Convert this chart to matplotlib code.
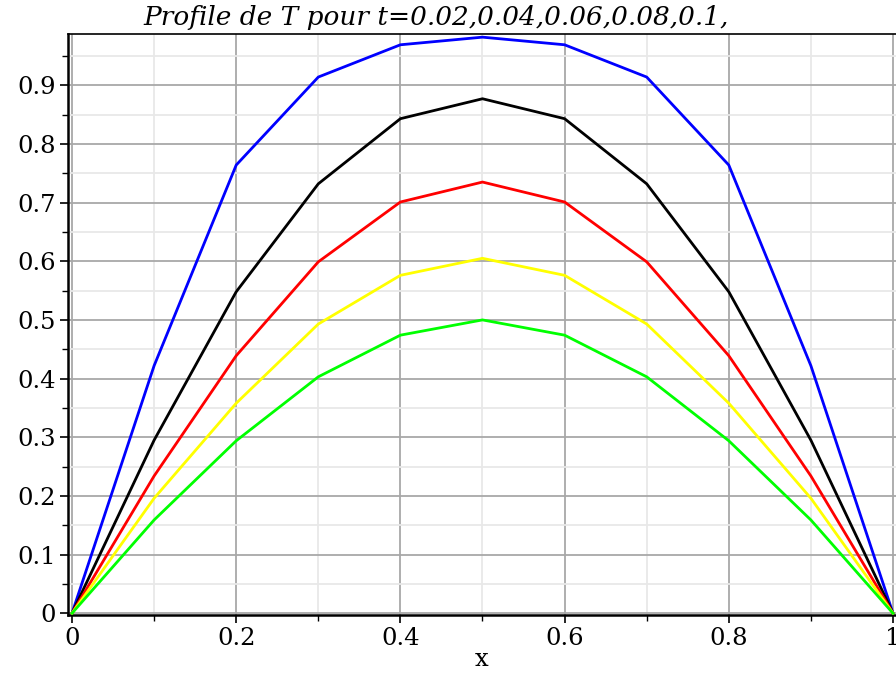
import matplotlib
matplotlib.use('Agg')
import matplotlib.pyplot as plt
from matplotlib.ticker import MultipleLocator

# temperature profiles at t = 0.02 ... 0.1
x = [0.0, 0.1, 0.2, 0.3, 0.4, 0.5, 0.6, 0.7, 0.8, 0.9, 1.0]
T_blue = [0.0, 0.422, 0.764, 0.914, 0.969, 0.982, 0.969, 0.914, 0.764, 0.422, 0.0]
T_black = [0.0, 0.295, 0.548, 0.732, 0.843, 0.877, 0.843, 0.732, 0.548, 0.295, 0.0]
T_red = [0.0, 0.234, 0.439, 0.599, 0.701, 0.735, 0.701, 0.599, 0.439, 0.234, 0.0]
T_yellow = [0.0, 0.196, 0.358, 0.493, 0.576, 0.605, 0.576, 0.493, 0.358, 0.196, 0.0]
T_green = [0.0, 0.159, 0.294, 0.403, 0.474, 0.500, 0.474, 0.403, 0.294, 0.159, 0.0]

profiles = [T_blue, T_black, T_red, T_yellow, T_green]
colors = ['#0000ff', '#000000', '#ff0000', '#ffff00', '#00ff00']

fig = plt.figure(figsize=(8.96, 6.73), dpi=100)
ax = fig.add_axes([0.0759, 0.0862, 0.9241, 0.8633])

for T, c in zip(profiles, colors):
    ax.plot(x, T, color=c, linewidth=2.0, zorder=3)

ax.set_xlim(-0.0049, 1.0037)
ax.set_ylim(-0.003, 0.9874)

ax.xaxis.set_major_locator(MultipleLocator(0.2))
ax.xaxis.set_minor_locator(MultipleLocator(0.1))
ax.yaxis.set_major_locator(MultipleLocator(0.1))
ax.yaxis.set_minor_locator(MultipleLocator(0.05))

ax.grid(which='major', color='#a8a8a8', linewidth=1.3, zorder=0)
ax.grid(which='minor', color='#e8e8e8', linewidth=1.3, zorder=0)
ax.set_axisbelow(True)

xt = [0, 0.2, 0.4, 0.6, 0.8, 1]
ax.set_xticks(xt)
ax.set_xticklabels(['0', '0.2', '0.4', '0.6', '0.8', '1'])
yt = [0, 0.1, 0.2, 0.3, 0.4, 0.5, 0.6, 0.7, 0.8, 0.9]
ax.set_yticks(yt)
ax.set_yticklabels(['0', '0.1', '0.2', '0.3', '0.4', '0.5', '0.6', '0.7', '0.8', '0.9'])

ax.tick_params(which='major', length=6, width=1.2, color='black',
               labelsize=17.5, pad=3)
ax.tick_params(which='minor', length=4, width=1.0, color='black')
for lab in ax.get_xticklabels() + ax.get_yticklabels():
    lab.set_family('DejaVu Serif')

ax.spines['left'].set_linewidth(1.8)
ax.spines['bottom'].set_linewidth(1.8)
ax.spines['top'].set_linewidth(1.2)
ax.spines['right'].set_visible(False)

ax.set_xlabel('x', family='DejaVu Serif', fontsize=17.5, labelpad=-2)
fig.text(0.487, 0.974, 'Profile de T pour t=0.02,0.04,0.06,0.08,0.1,',
         family='DejaVu Serif', style='italic', fontsize=19,
         ha='center', va='center')

plt.savefig('out.png', dpi=100)
